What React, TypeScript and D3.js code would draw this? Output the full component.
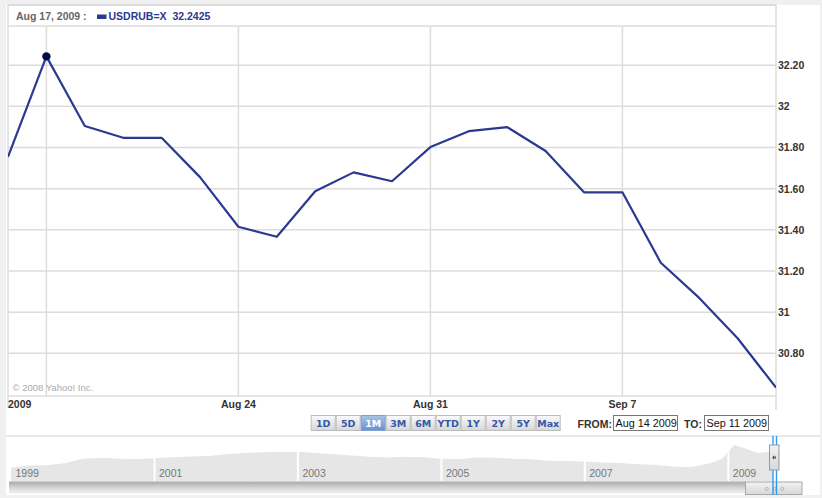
import React from "react";
import * as d3 from "d3";

const dates = ["Aug 14","Aug 17","Aug 18","Aug 19","Aug 20","Aug 21","Aug 24","Aug 25","Aug 26","Aug 27","Aug 28","Aug 31","Sep 1","Sep 2","Sep 3","Sep 4","Sep 7","Sep 8","Sep 9","Sep 10","Sep 11"];
const rates = [31.754,32.2425,31.904,31.847,31.847,31.656,31.415,31.366,31.587,31.679,31.636,31.802,31.879,31.899,31.783,31.582,31.582,31.240,31.069,30.873,30.634];

const yTicks = [30.8,31,31.2,31.4,31.6,31.8,32,32.2];
const yTickLabels = ["30.80","31","31.20","31.40","31.60","31.80","32","32.20"];
const gridDates = ["Aug 17","Aug 24","Aug 31","Sep 7"];
const xTickDates = ["Aug 14","Aug 24","Aug 31","Sep 7"];
const xTickLabels = ["2009","Aug 24","Aug 31","Sep 7"];

const rangeButtons = ["1D","5D","1M","3M","6M","YTD","1Y","2Y","5Y","Max"];
const selectedRange = "1M";

const navDates = ["1999-01","1999-04","1999-07","1999-10","2000-01","2000-04","2000-07","2000-10","2001-01","2001-04","2001-07","2001-10","2002-01","2002-04","2002-07","2002-10","2003-01","2003-04","2003-07","2003-10","2004-01","2004-04","2004-07","2004-10","2005-01","2005-04","2005-07","2005-10","2006-01","2006-04","2006-07","2006-10","2007-01","2007-04","2007-07","2007-10","2008-01","2008-04","2008-07","2008-10","2008-12","2009-01","2009-02","2009-04","2009-06","2009-08","2009-09"];
const navValues = [23.0,24.2,24.3,25.5,28.0,28.5,28.0,27.8,28.3,28.8,29.2,29.5,30.5,31.2,31.5,31.7,31.8,31.2,30.5,29.8,29.0,28.6,29.1,28.8,27.9,27.8,28.6,28.5,28.0,27.7,26.9,26.7,26.4,25.9,25.6,24.9,24.5,23.6,23.4,25.5,28.0,32.0,35.5,33.5,31.2,31.8,31.0];
const navYears = ["1999","2001","2003","2005","2007","2009"];

const legendDate = "Aug 17, 2009 :";
const legendSymbol = "USDRUB=X";
const legendValue = "32.2425";
const fromDate = "Aug 14 2009";
const toDate = "Sep 11 2009";

const W = 822, H = 498;
const PL = 8, PR = 776, PT = 26, PB = 396, BOXTOP = 5;
const GRID = "#dcdcdc";
const LINE = "#2b3990";
const FONT = "'Liberation Sans', Arial, sans-serif";
const BFONT = "'DejaVu Sans', Verdana, sans-serif";

export default function App() {
  const x = d3.scalePoint<string>().domain(dates).range([PL, PR]);
  const y = d3.scaleLinear().domain([30.8, 32]).range([353.3, 106.3]);
  const line = d3.line<number>().x((_, i) => x(dates[i])!).y((d) => y(d));

  const parse = d3.timeParse("%Y-%m");
  const navX = d3.scaleTime().domain([new Date(1999, 0, 1), new Date(2009, 8, 11)]).range([11, 778]);
  const navY = d3.scaleLinear().domain([23.4, 35]).range([467, 446]);
  const navArea = d3.area<number>()
    .x((_, i) => navX(parse(navDates[i])!))
    .y0(481)
    .y1((d) => navY(d));

  const hiIdx = dates.indexOf("Aug 17");
  const btnX = d3.scaleBand().domain(rangeButtons).range([310.7, 560.7]);

  return (
    <svg width={W} height={H} style={{ position: "absolute", left: 0, top: 0 }} fontFamily={FONT}>
      <defs>
        <linearGradient id="btn" x1="0" y1="0" x2="0" y2="1">
          <stop offset="0" stopColor="#fbfbfb" />
          <stop offset="1" stopColor="#d6d6d6" />
        </linearGradient>
        <linearGradient id="btnSel" x1="0" y1="0" x2="0" y2="1">
          <stop offset="0" stopColor="#a9c3e8" />
          <stop offset="1" stopColor="#6a91cc" />
        </linearGradient>
        <linearGradient id="scroll" x1="0" y1="0" x2="0" y2="1">
          <stop offset="0" stopColor="#a8a8a8" />
          <stop offset="0.5" stopColor="#d4d4d4" />
          <stop offset="1" stopColor="#f2f2f2" />
        </linearGradient>
        <linearGradient id="thumb" x1="0" y1="0" x2="0" y2="1">
          <stop offset="0" stopColor="#f2f2f2" />
          <stop offset="1" stopColor="#d8d8d8" />
        </linearGradient>
        <clipPath id="plotClip">
          <rect x={PL} y={PT} width={PR - PL} height={PB - PT} />
        </clipPath>
        <clipPath id="navClip">
          <rect x={11} y={437} width={762} height={50} />
        </clipPath>
      </defs>

      <rect x={0} y={0} width={W} height={H} fill="#f0f0f0" />
      <rect x={6} y={5} width={814} height={490} fill="#ffffff" />

      {/* gridlines */}
      {yTicks.map((t) => (
        <line key={"h" + t} x1={PL} x2={PR} y1={y(t)} y2={y(t)} stroke={GRID} strokeWidth={1.5} />
      ))}
      {gridDates.map((d) => (
        <line key={"v" + d} x1={x(d)} x2={x(d)} y1={PT} y2={PB} stroke={GRID} strokeWidth={1.5} />
      ))}

      {/* frame */}
      <line x1={PL} x2={PR} y1={BOXTOP} y2={BOXTOP} stroke={GRID} strokeWidth={2} />
      <line x1={PL} x2={PR} y1={PT} y2={PT} stroke={GRID} strokeWidth={1.5} />
      <line x1={PL} x2={PL} y1={BOXTOP} y2={408} stroke={GRID} strokeWidth={1.5} />
      <line x1={PR} x2={PR} y1={BOXTOP} y2={410} stroke={GRID} strokeWidth={1.5} />
      <line x1={PL} x2={PR} y1={PB} y2={PB} stroke={GRID} strokeWidth={1.5} />

      {/* legend */}
      <text x={16} y={20} fontSize={10.5} fontWeight="bold" fill="#666">{legendDate}</text>
      <rect x={97} y={14.5} width={9.5} height={4.5} fill={LINE} />
      <text x={108.5} y={20} fontSize={10.5} fontWeight="bold" fill={LINE} style={{ whiteSpace: "pre" }}>
        {legendSymbol + "  " + legendValue}
      </text>

      {/* copyright */}
      <text x={12.5} y={391} fontSize={9.5} fill="#aaa">© 2008 Yahoo! Inc.</text>

      {/* series */}
      <path d={line(rates)!} fill="none" stroke={LINE} strokeWidth={2.2} strokeLinejoin="round" clipPath="url(#plotClip)" />
      <circle cx={x(dates[hiIdx])} cy={y(rates[hiIdx])} r={4.2} fill="#000a4a" />

      {/* y axis labels */}
      {yTicks.map((t, i) => (
        <text key={"yl" + t} x={778} y={y(t) + 4} fontSize={10.5} fontWeight="bold" fill="#333">
          {yTickLabels[i]}
        </text>
      ))}

      {/* x axis labels */}
      {xTickDates.map((d, i) => (
        <text key={"xl" + d} x={i === 0 ? PL : x(d)} y={408} fontSize={10.5} fontWeight="bold" fill="#333"
          textAnchor={i === 0 ? "start" : "middle"}>
          {xTickLabels[i]}
        </text>
      ))}

      {/* range buttons */}
      {rangeButtons.map((b) => {
        const sel = b === selectedRange;
        const bx = btnX(b)!;
        return (
          <g key={b}>
            <rect x={bx + 0.5} y={415.5} width={btnX.bandwidth() - 1} height={15} fill={sel ? "url(#btnSel)" : "url(#btn)"}
              stroke={sel ? "#7f9fd0" : "#bcbcbc"} strokeWidth={1} />
            <text x={bx + btnX.bandwidth() / 2} y={427} fontFamily={BFONT} fontSize={9.5} fontWeight="bold"
              textAnchor="middle" fill={sel ? "#ffffff" : "#3557a6"}>{b}</text>
          </g>
        );
      })}

      {/* from / to */}
      <text x={577.5} y={427.5} fontSize={10.5} fontWeight="bold" fill="#333">FROM:</text>
      <rect x={613.5} y={415.5} width={64} height={15} fill="#fff" stroke="#777" strokeWidth={1} />
      <text x={615.5} y={427} fontSize={10.8} fill="#111">{fromDate}</text>
      <text x={684} y={427.5} fontSize={10.5} fontWeight="bold" fill="#333">TO:</text>
      <rect x={704.5} y={415.5} width={64} height={15} fill="#fff" stroke="#777" strokeWidth={1} />
      <text x={706.5} y={427} fontSize={10.8} fill="#111">{toDate}</text>

      {/* navigator */}
      <line x1={6} x2={820} y1={436} y2={436} stroke="#cfcfcf" strokeWidth={1.2} />
      <path d={navArea(navValues)!} fill="#e6e6e6" clipPath="url(#navClip)" />
      {navYears.map((yr) => {
        const xx = navX(new Date(+yr, 0, 1));
        return (
          <g key={yr}>
            {yr !== "1999" && <line x1={xx} x2={xx} y1={440} y2={482} stroke="#fff" strokeWidth={2} />}
            <text x={xx + 4.5} y={477} fontSize={10.5} fill="#777">{yr}</text>
          </g>
        );
      })}

      {/* scrollbar */}
      <rect x={9} y={481.5} width={737} height={12} fill="url(#scroll)" />
      <rect x={745.5} y={482} width={56.5} height={12.5} fill="url(#thumb)" stroke="#a8a8a8" strokeWidth={1} />
      {[766.7, 774.7, 782.3].map((cx) => (
        <circle key={cx} cx={cx} cy={489} r={1.6} fill="none" stroke="#aaa" strokeWidth={0.8} />
      ))}

      {/* selection handles */}
      <line x1={773} x2={773} y1={436} y2={495} stroke="#2d9bf0" strokeWidth={1.4} />
      <line x1={776.5} x2={776.5} y1={436} y2={495} stroke="#2d9bf0" strokeWidth={1.4} />
      <rect x={769.5} y={445} width={9.5} height={25} fill="url(#thumb)" stroke="#999" strokeWidth={1} />
      <path d="M772.3,457.5 L774,455.5 L774,459.5 Z" fill="#333" />
      <path d="M776.2,457.5 L774.6,455.5 L774.6,459.5 Z" fill="#333" />
    </svg>
  );
}
